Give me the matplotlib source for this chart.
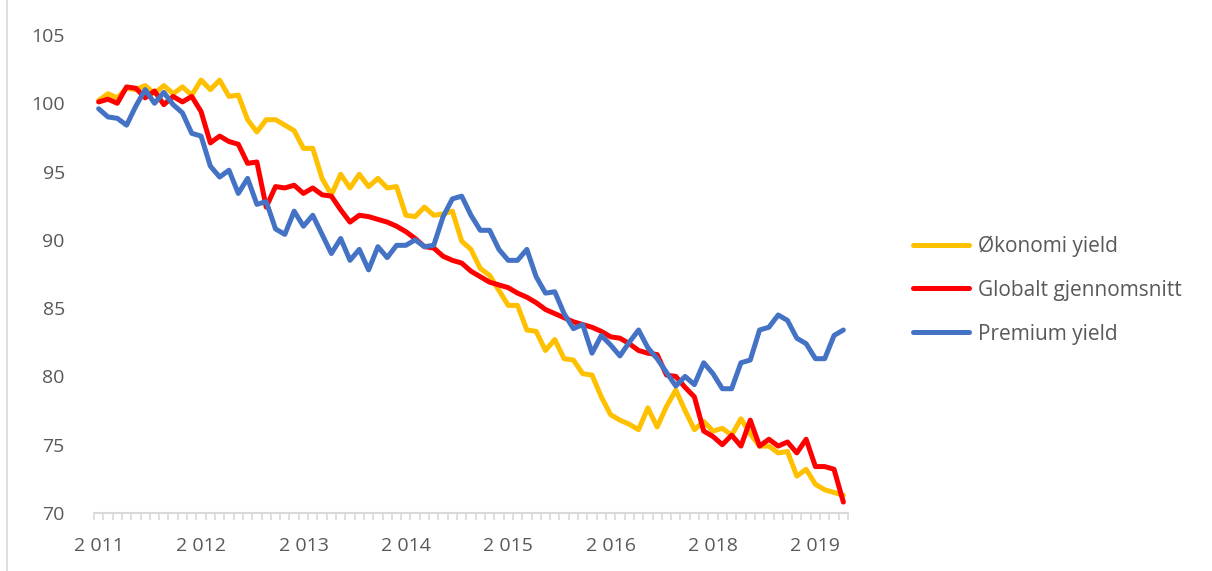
import matplotlib
matplotlib.use("Agg")
import matplotlib.pyplot as plt
from matplotlib.lines import Line2D
import numpy as np

plt.rcParams['font.family'] = ['Open Sans', 'DejaVu Sans']

series_names = ["Økonomi yield", "Globalt gjennomsnitt", "Premium yield"]
series_colors = ["#FFC000", "#FF0000", "#4472C4"]

okonomi = [100.2, 100.7, 100.4, 101.1, 101.0, 101.3, 100.7, 101.3, 100.7, 101.2,
           100.6, 101.7, 101.0, 101.7, 100.5, 100.6, 98.8, 97.9, 98.8, 98.8,
           98.4, 98.0, 96.7, 96.7, 94.5, 93.3, 94.8, 93.8, 94.8, 93.9,
           94.5, 93.8, 93.9, 91.8, 91.7, 92.4, 91.8, 91.9, 92.1, 89.9,
           89.3, 87.9, 87.4, 86.3, 85.2, 85.2, 83.4, 83.3, 81.9, 82.7,
           81.3, 81.2, 80.2, 80.1, 78.5, 77.2, 76.8, 76.5, 76.1, 77.7,
           76.3, 77.8, 79.0, 77.5, 76.1, 76.7, 76.0, 76.2, 75.7, 76.9,
           75.8, 74.9, 74.9, 74.4, 74.5, 72.7, 73.2, 72.1, 71.7, 71.5,
           71.3]

globalt = [100.1, 100.3, 100.0, 101.2, 101.1, 100.4, 100.9, 99.9, 100.5, 100.1,
           100.5, 99.4, 97.1, 97.6, 97.2, 97.0, 95.6, 95.7, 92.4, 93.9,
           93.8, 94.0, 93.4, 93.8, 93.3, 93.2, 92.2, 91.3, 91.8, 91.7,
           91.5, 91.3, 91.0, 90.6, 90.1, 89.5, 89.4, 88.8, 88.5, 88.3,
           87.7, 87.3, 86.9, 86.7, 86.5, 86.1, 85.8, 85.4, 84.9, 84.6,
           84.3, 84.0, 83.8, 83.6, 83.3, 82.9, 82.8, 82.4, 81.9, 81.7,
           81.6, 80.1, 80.0, 79.2, 78.5, 76.0, 75.6, 75.0, 75.7, 74.9,
           76.8, 74.9, 75.4, 74.9, 75.2, 74.4, 75.4, 73.4, 73.4, 73.2,
           70.8]

premium = [99.6, 99.0, 98.9, 98.4, 99.8, 101.0, 100.0, 100.8, 99.9, 99.3,
           97.8, 97.6, 95.4, 94.6, 95.1, 93.4, 94.5, 92.6, 92.8, 90.8,
           90.4, 92.1, 91.0, 91.8, 90.4, 89.0, 90.1, 88.5, 89.3, 87.8,
           89.5, 88.7, 89.6, 89.6, 90.0, 89.5, 89.6, 91.7, 93.0, 93.2,
           91.8, 90.7, 90.7, 89.3, 88.5, 88.5, 89.3, 87.3, 86.1, 86.2,
           84.6, 83.5, 83.8, 81.7, 83.0, 82.3, 81.5, 82.5, 83.4, 82.1,
           81.3, 80.3, 79.3, 80.0, 79.4, 81.0, 80.2, 79.1, 79.1, 81.0,
           81.2, 83.4, 83.6, 84.5, 84.1, 82.8, 82.4, 81.3, 81.3, 83.0,
           83.4]

x_label_positions = [0, 11, 22, 33, 44, 55, 66, 77]
x_labels = ["2 011", "2 012", "2 013", "2 014", "2 015", "2 016", "2 018", "2 019"]
y_ticks = [70, 75, 80, 85, 90, 95, 100, 105]

W, H = 1212, 571
fig = plt.figure(figsize=(W / 100, H / 100), dpi=100)
ax = fig.add_axes([94 / W, 1 - 513 / H, (848 - 94) / W, (513 - 35) / H])

n = len(okonomi)
x = np.arange(n)
for vals, name, col in zip([okonomi, globalt, premium], series_names, series_colors):
    ax.plot(x, vals, color=col, lw=3.6, label=name, solid_joinstyle='round',
            solid_capstyle='round')

ax.set_xlim(-0.5, n - 0.5)
ax.set_ylim(70, 105)
ax.set_yticks(y_ticks)
ax.set_yticklabels([str(v) for v in y_ticks])

ax.set_xticks(x_label_positions)
ax.set_xticklabels(x_labels)
ax.set_xticks(np.arange(-0.5, n, 1.0), minor=True)

grey_txt = "#595959"
axis_col = "#D9D9D9"
for s in ["top", "right", "left"]:
    ax.spines[s].set_visible(False)
ax.spines["bottom"].set_color(axis_col)
ax.spines["bottom"].set_linewidth(1.5)

ax.tick_params(axis='x', which='major', length=0, pad=17, labelsize=14, labelcolor=grey_txt)
ax.tick_params(axis='x', which='minor', length=5, width=1.2, color=axis_col, direction='out')
ax.tick_params(axis='y', which='both', length=0, pad=21, labelsize=14, labelcolor=grey_txt)

leg = fig.legend(loc='center left', bbox_to_anchor=(913 / W, 1 - 290 / H),
                 frameon=False, fontsize=15, handlelength=2.7, handletextpad=0.4,
                 labelspacing=1.1, borderpad=0, borderaxespad=0)
for t in leg.get_texts():
    t.set_color(grey_txt)
for l in leg.get_lines():
    l.set_linewidth(3.6)

fig.add_artist(Line2D([7 / W, 7 / W], [0, 1], transform=fig.transFigure,
                      color=axis_col, lw=1.2))

fig.savefig("out.png", dpi=100)
